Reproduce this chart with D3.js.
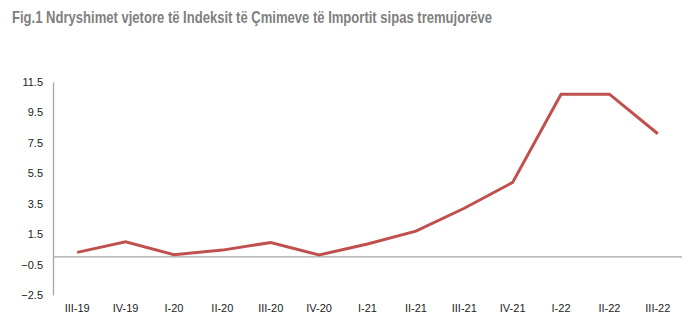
<!DOCTYPE html>
<html>
<head>
<meta charset="utf-8">
<script src="https://cdn.jsdelivr.net/npm/d3@7"></script>
<style>
  html, body { margin: 0; padding: 0; background: #fff; }
  svg { display: block; }
</style>
</head>
<body>
<svg id="chart" width="688" height="323"></svg>
<script>
// Quarterly labels and year-on-year change of the import price index
const quarters = ["III-19", "IV-19", "I-20", "II-20", "III-20", "IV-20", "I-21",
                  "II-21", "III-21", "IV-21", "I-22", "II-22", "III-22"];
const changeValues = [0.3, 1.0, 0.15, 0.45, 0.95, 0.13, 0.85, 1.7, 3.2, 4.9, 10.7, 10.7, 8.1];
const yTicks = [-2.5, -0.5, 1.5, 3.5, 5.5, 7.5, 9.5, 11.5];
const titleText = "Fig.1 Ndryshimet vjetore të Indeksit të Çmimeve të Importit sipas tremujorëve";

const svg = d3.select("#chart");
const margin = { left: 53, right: 6, top: 82, bottom: 28 };
const width = 688, height = 323;

const x = d3.scaleBand()
  .domain(quarters)
  .range([margin.left, width - margin.right]);

const y = d3.scaleLinear()
  .domain([-2.5, 11.5])
  .range([height - margin.bottom, margin.top]);

// Title
svg.append("text")
  .attr("x", 12)
  .attr("y", 23)
  .attr("textLength", 480)
  .attr("lengthAdjust", "spacingAndGlyphs")
  .style("font-family", "'Liberation Sans', Arial, sans-serif")
  .style("font-weight", "bold")
  .style("font-size", "17px")
  .style("fill", "#7f7f7f")
  .text(titleText);

// Y axis (line and labels only)
const yAxis = svg.append("g")
  .attr("transform", `translate(${margin.left},0)`)
  .call(d3.axisLeft(y).tickValues(yTicks).tickSize(0).tickPadding(10)
    .tickFormat(d3.format(".1f")));
yAxis.select(".domain").attr("stroke", "#a6a6a6").attr("stroke-width", 1.3);
yAxis.selectAll("text")
  .style("font-family", "'Liberation Sans', Arial, sans-serif")
  .style("font-size", "11px")
  .style("fill", "#1a1a1a");

// Zero baseline
svg.append("line")
  .attr("x1", margin.left)
  .attr("x2", width - margin.right)
  .attr("y1", y(0))
  .attr("y2", y(0))
  .attr("stroke", "#a6a6a6")
  .attr("stroke-width", 1.3);

// X axis labels
const xAxis = svg.append("g")
  .attr("transform", `translate(0,${height - margin.bottom})`)
  .call(d3.axisBottom(x).tickSize(0).tickPadding(9));
xAxis.select(".domain").remove();
xAxis.selectAll("text")
  .style("font-family", "'Liberation Sans', Arial, sans-serif")
  .style("font-size", "11px")
  .style("fill", "#1a1a1a");

// Series line
const line = d3.line()
  .x((d, i) => x(quarters[i]) + x.bandwidth() / 2)
  .y(d => y(d));

svg.append("path")
  .datum(changeValues)
  .attr("d", line)
  .attr("fill", "none")
  .attr("stroke", "#c0504d")
  .attr("stroke-width", 3)
  .attr("stroke-linejoin", "miter");
</script>
</body>
</html>
